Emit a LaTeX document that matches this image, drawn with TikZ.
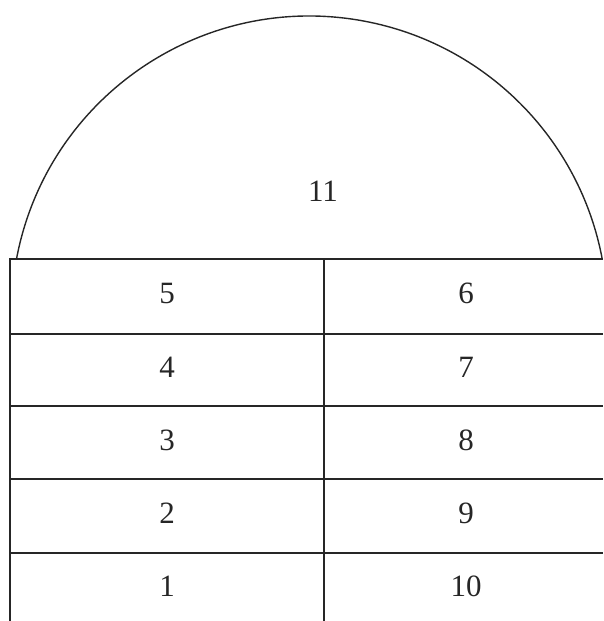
\documentclass[tikz,border=0pt]{standalone}
\usepackage{fontspec}
\setmainfont{Liberation Serif}
\usetikzlibrary{positioning}
\definecolor{ink}{gray}{0.15}

\begin{document}
\begin{tikzpicture}[
  x=1pt, y=-1pt,
  font=\fontsize{31}{36}\selectfont,
  rule/.style={draw=ink, line width=1.8pt},
  dome/.style={draw=ink, line width=1.4pt},
  num/.style={text=ink, inner sep=0pt},
]
\useasboundingbox (0,0) rectangle (603,621);

% dome: circular arc, centre below the top rule
\draw[dome] (16.5,259) arc[start angle=190.64, end angle=349.36, radius=298];
\node[num] (n11) at (323,191) {11};

% table
\draw[rule] (10,621) -- (10,259) -- (603,259);
\draw[rule] (324,259) -- (324,621);
\draw[rule] (10,334) -- (603,334);
\draw[rule] (10,406) -- (603,406);
\draw[rule] (10,479) -- (603,479);
\draw[rule] (10,553) -- (603,553);

\node[num] (n5)  at (167,293) {5};
\node[num] (n4)  at (167,367) {4};
\node[num] (n3)  at (167,440) {3};
\node[num] (n2)  at (167,513) {2};
\node[num] (n1)  at (167,586) {1};
\node[num] (n6)  at (466,293) {6};
\node[num] (n7)  at (466,367) {7};
\node[num] (n8)  at (466,440) {8};
\node[num] (n9)  at (466,513) {9};
\node[num] (n10) at (466,586) {10};
\end{tikzpicture}
\end{document}
